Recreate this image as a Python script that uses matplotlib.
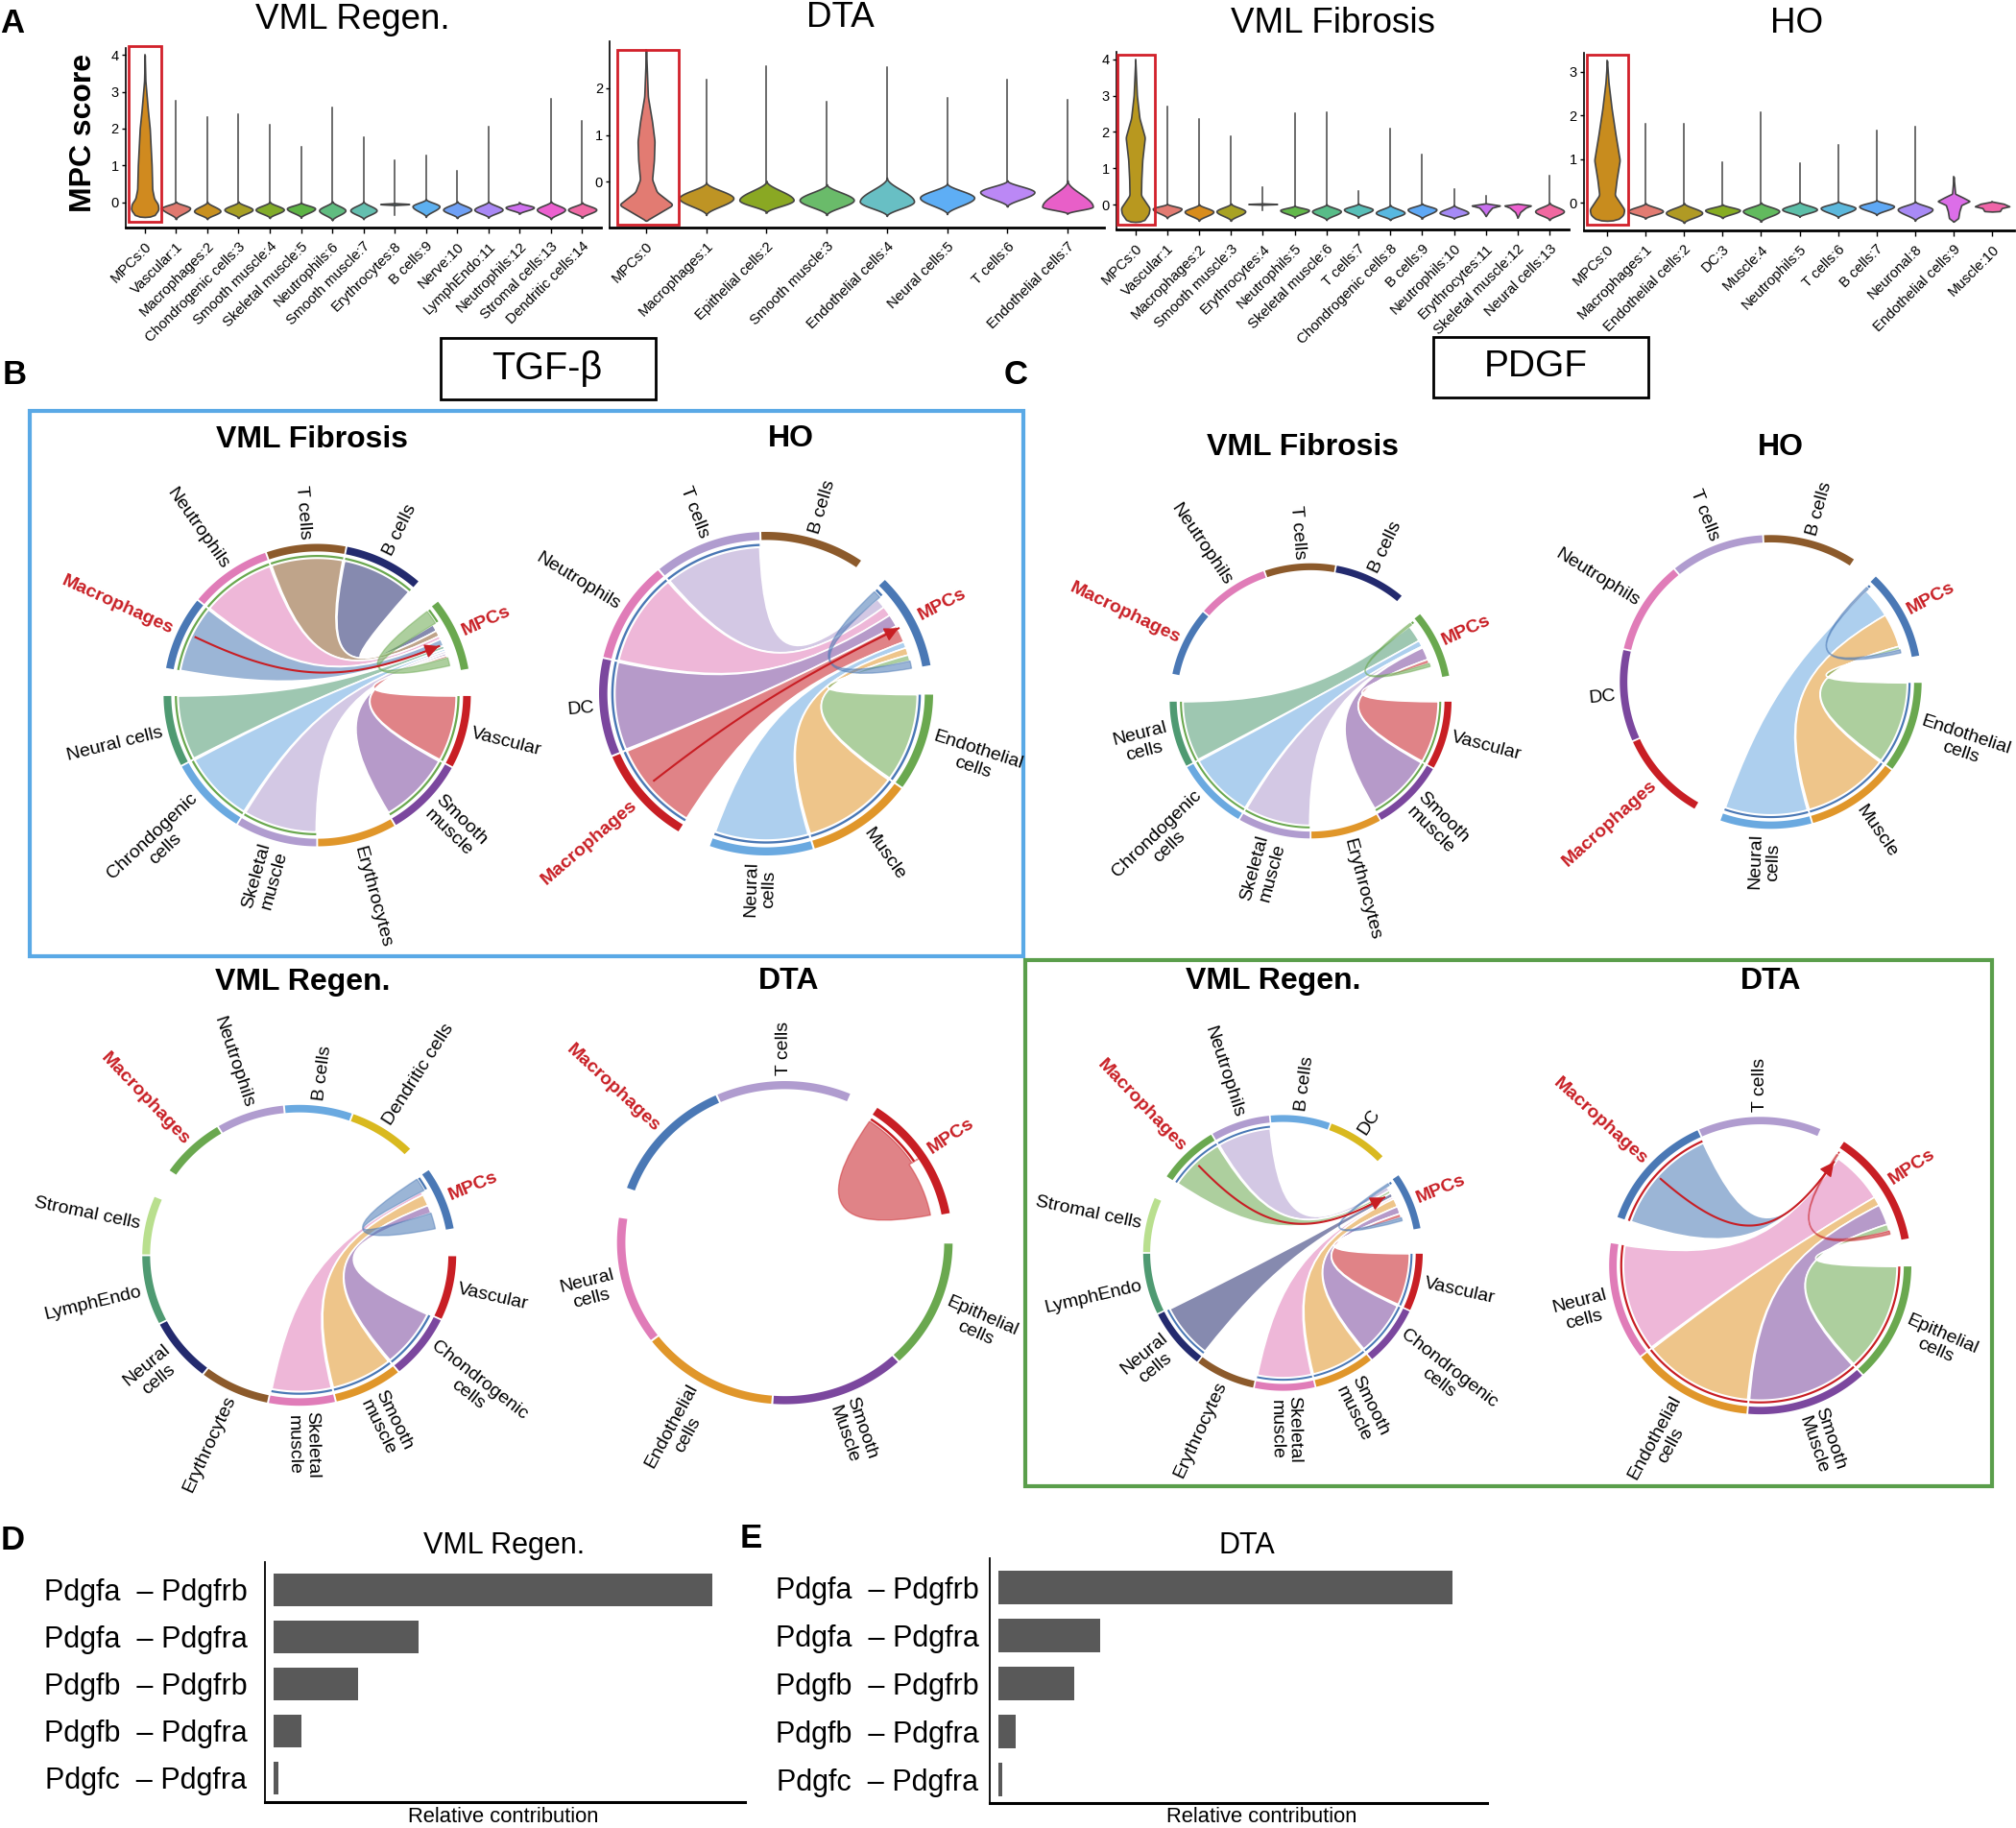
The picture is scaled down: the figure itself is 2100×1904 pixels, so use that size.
import matplotlib
matplotlib.use('Agg')
import matplotlib.pyplot as plt
from matplotlib.colors import to_rgba
from matplotlib.patches import PathPatch, Polygon, Rectangle
from matplotlib.path import Path
import numpy as np

plt.rcParams['font.family'] = ['Liberation Sans', 'DejaVu Sans']

W, H = 2100, 1904

# ---- panel A data
reg_names = ['MPCs:0', 'Vascular:1', 'Macrophages:2', 'Chondrogenic cells:3', 'Smooth muscle:4', 'Skeletal muscle:5',
             'Neutrophils:6', 'Smooth muscle:7', 'Erythrocytes:8', 'B cells:9', 'Nerve:10', 'LymphEndo:11',
             'Neutrophils:12', 'Stromal cells:13', 'Dendritic cells:14']
reg_colors = ['#D08A1F', '#E0796F', '#C8901F', '#A8A024', '#82AC2A', '#5DB445', '#60BC80', '#64BFAF', '#50B8C8',
              '#5DB0F0', '#6FA0F5', '#A988F5', '#D070F0', '#EC60D0', '#F06AA5']
reg_low = [-.40, -.46, -.46, -.43, -.43, -.42, -.49, -.46, -.08, -.40, -.43, -.42, -.31, -.46, -.42]
reg_mode = [0, -.16, -.24, -.20, -.20, -.17, -.22, -.22, -.05, -.11, -.20, -.20, -.14, -.20, -.20]
reg_high = [0, .02, .02, .02, .02, 0, .03, .03, -.02, .09, .03, .03, -.01, .03, 0]
reg_tip = [4.0, 2.76, 2.32, 2.38, 2.10, 1.50, 2.57, 1.76, 1.13, 1.26, .84, 2.06, -.01, 2.82, 2.20]
reg_w = [.45, .45, .42, .45, .45, .45, .42, .42, .46, .43, .45, .45, .45, .45, .45]
reg_tail = {8: -.35}
reg_prof = {0: ([-.40, -.39, -.2, -.05, .1, .35, 1, 2, 2.5, 3, 3.3, 4.0],
                [0, .28, .44, .42, .30, .24, .22, .16, .10, .05, .02, 0])}

dta_names = ['MPCs:0', 'Macrophages:1', 'Epithelial cells:2', 'Smooth muscle:3', 'Endothelial cells:4',
             'Neural cells:5', 'T cells:6', 'Endothelial cells:7']
dta_colors = ['#E27B72', '#BE9424', '#8AA823', '#6ABB6A', '#68BFC4', '#5EAEF5', '#BB88F5', '#E85FC8']
dta_low = [-.83, -.71, -.66, -.71, -.73, -.69, -.53, -.68]
dta_mode = [0, -.35, -.39, -.39, -.42, -.34, -.22, -.53]
dta_high = [0, -.01, .02, -.05, .09, -.03, .03, .03]
dta_tip = [2.81, 2.18, 2.47, 1.70, 2.45, 1.79, 2.18, 1.75]
dta_w = [.45] * 7 + [.42]
dta_prof = {0: ([-.83, -.49, -.22, .05, .46, .87, 1.28, 1.82, 2.81],
                [0, .45, .18, .10, .13, .14, .10, .03, 0])}

fib_names = ['MPCs:0', 'Vascular:1', 'Macrophages:2', 'Smooth muscle:3', 'Erythrocytes:4', 'Neutrophils:5',
             'Skeletal muscle:6', 'T cells:7', 'Chondrogenic cells:8', 'B cells:9', 'Neutrophils:10',
             'Erythrocytes:11', 'Skeletal muscle:12', 'Neural cells:13']
fib_colors = ['#B8981F', '#E27B72', '#D88C1C', '#A8A224', '#8AA824', '#62B84A', '#58BC88', '#58BFB8', '#58B8E0',
              '#5EA8F5', '#A58AF5', '#C870F0', '#EE60D0', '#F068A0']
fib_low = [-.47, -.37, -.44, -.44, 0, -.35, -.42, -.35, -.42, -.38, -.38, -.31, -.35, -.42]
fib_mode = [0, -.11, -.19, -.18, .02, -.15, -.18, -.13, -.22, -.13, -.22, -.02, -.03, -.18]
fib_high = [0, .03, .02, .04, .04, -.02, .02, .04, 0, .04, 0, .04, .02, .06]
fib_tip = [3.98, 2.71, 2.35, 1.89, .48, 2.51, 2.53, .37, 2.09, 1.38, .44, .25, .02, .79]
fib_w = [.45] * 14
fib_tail = {4: -.16}
fib_prof = {0: ([-.47, -.46, -.25, -.09, .26, .70, 1.23, 1.85, 2.38, 3.0, 3.98],
                [0, .25, .42, .45, .18, .19, .22, .30, .13, .05, 0]),
            11: ([-.31, -.2, -.08, -.02, .04], [0, .08, .2, .45, 0]),
            12: ([-.35, -.2, -.08, -.02, .03], [0, .08, .25, .42, 0])}

ho_names = ['MPCs:0', 'Macrophages:1', 'Endothelial cells:2', 'DC:3', 'Muscle:4', 'Neutrophils:5', 'T cells:6',
            'B cells:7', 'Neuronal:8', 'Endothelial cells:9', 'Muscle:10']
ho_colors = ['#C88C1E', '#E27B72', '#B09A24', '#86AC22', '#62BA5E', '#5CBFA8', '#5CB8DC', '#5EA8F5', '#A88AF5',
             '#DC6EE8', '#F065A8']
ho_low = [-.41, -.36, -.46, -.35, -.43, -.32, -.34, -.28, -.41, -.43, -.19]
ho_mode = [0, -.19, -.23, -.17, -.19, -.15, -.12, -.08, -.15, .04, -.08]
ho_high = [0, 0, 0, -.03, .01, .03, .04, .07, .04, .21, .03]
ho_tip = [3.26, 1.81, 1.81, .93, 2.07, .91, 1.33, 1.66, 1.74, .60, .03]
ho_w = [.45, .45, .47, .45, .47, .45, .45, .45, .45, .42, .45]
ho_prof = {0: ([-.41, -.40, -.28, -.15, .18, .54, .98, 1.57, 2.16, 2.75, 3.26],
               [0, .25, .42, .45, .20, .25, .33, .22, .12, .04, 0]),
           9: ([-.43, -.35, -.19, -.05, .04, .12, .21, .60], [0, .12, .15, .2, .42, .25, .04, 0]),
           10: ([-.2, -.19, -.12, -.08, -.02, .03], [0, .2, .25, .45, .3, 0])}

# ---- chord colours
RED = '#C81E24'
BLUE = '#4A78B5'
GREEN = '#6AA84F'
SEA = '#4F9A72'
LBLUE = '#6AA9E0'
LILAC = '#B09CCF'
ORANGE = '#E0962A'
PURPLE = '#7B479E'
PINK = '#E07CB8'
BROWN = '#8C5A2B'
NAVY = '#232A6E'
LGREEN = '#B9DF8E'
YELLOW = '#D9B91F'

# panel B, VML Fibrosis
b1_labels = ['Vascular', 'Smooth\nmuscle', 'Erythrocytes', 'Skeletal\nmuscle', 'Chrondogenic\ncells', 'Neural cells',
             'Macrophages', 'Neutrophils', 'T cells', 'B cells', 'MPCs']
b1_edges = [(360, 331.5), (331.5, 300.5), (300.5, 270), (270, 238.6), (238.6, 207.9), (207.9, 180), (170, 141),
            (141, 109.5), (109.5, 79), (79, 48.4), (38.5, 9.7)]
b1_colors = [RED, PURPLE, ORANGE, LILAC, LBLUE, SEA, BLUE, PINK, BROWN, NAVY, GREEN]
b1_tgt_idx = [10, 9, 8, 7, 6, 5, 4, 3, 1, 0, 10]
b1_tgt_deg = [6, 3, 2.5, 1.5, 3, 1.5, 1, 1, 1, 1, 3.5]
b1_arrow = (154.2, .88, 22.2, .857)

# panel B, HO
b2_labels = ['Endothelial\ncells', 'Muscle', 'Neural\ncells', 'Macrophages', 'DC', 'Neutrophils', 'T cells', 'B cells',
             'MPCs']
b2_edges = [(360, 324.4), (324.4, 286.6), (286.6, 250), (238.7, 202.7), (202.7, 167.2), (167.2, 130), (130, 92),
            (92, 55), (45, 9.8)]
b2_colors = [GREEN, ORANGE, LBLUE, RED, PURPLE, PINK, LILAC, BROWN, BLUE]
b2_tgt_idx = [8, 6, 5, 4, 3, 2, 1, 0, 8]
b2_tgt_deg = [3, 4, 4, 5, 7, 2.5, 3, 2.5, 3]
b2_arrow = (218.7, .86, 27, .89)

# panel B, VML Regen.
b3_labels = ['Vascular', 'Chondrogenic\ncells', 'Smooth\nmuscle', 'Skeletal\nmuscle', 'Erythrocytes', 'Neural\ncells',
             'LymphEndo', 'Stromal cells', 'Macrophages', 'Neutrophils', 'B cells', 'Dendritic cells', 'MPCs']
b3_edges = [(360, 334.7), (334.7, 309.3), (309.3, 283.5), (283.5, 258.5), (258.5, 232.2), (232.2, 207.1),
            (207.1, 180), (180, 156.8), (146, 121.2), (121.2, 95.6), (95.6, 70.1), (70.1, 44.7), (34.8, 10)]
b3_colors = [RED, PURPLE, ORANGE, PINK, BROWN, NAVY, SEA, LGREEN, GREEN, LILAC, LBLUE, YELLOW, BLUE]
b3_tgt_idx = [12, 3, 2, 1, 12]
b3_tgt_deg = [5.5, 1.5, 5, 3.5, 7]

# panel B, DTA
b4_labels = ['Epithelial\ncells', 'Smooth\nMuscle', 'Endothelial\ncells', 'Neural\ncells', 'Macrophages', 'T cells',
             'MPCs']
b4_edges = [(360, 312.7), (312.7, 265.7), (265.7, 217.4), (217.4, 170.8), (160.5, 114), (114, 66.7), (56.9, 10.2)]
b4_colors = [GREEN, PURPLE, ORANGE, PINK, BLUE, LILAC, RED]
b4_tgt_idx = [6, 6]
b4_tgt_deg = [23, 22]

# panel C, VML Fibrosis
c1_labels = ['Vascular', 'Smooth\nmuscle', 'Erythrocytes', 'Skeletal\nmuscle', 'Chrondogenic\ncells', 'Neural\ncells',
             'Macrophages', 'Neutrophils', 'T cells', 'B cells', 'MPCs']
c1_edges = [(360, 330.6), (330.6, 299.8), (299.8, 270), (270, 239.5), (239.5, 208.5), (208.5, 180), (169, 139.5),
            (139.5, 109.2), (109.2, 79.6), (79.6, 49.4), (39.4, 10.2)]
c1_colors = [RED, PURPLE, ORANGE, LILAC, LBLUE, SEA, BLUE, PINK, BROWN, NAVY, GREEN]
c1_tgt_idx = [10, 5, 4, 3, 1, 0, 10]
c1_tgt_deg = [1, 8, 3, .7, 6, 2, 1.5]

# panel C, HO
c2_labels = ['Endothelial\ncells', 'Muscle', 'Neural\ncells', 'Macrophages', 'DC', 'Neutrophils', 'T cells', 'B cells',
             'MPCs']
c2_edges = [(360, 323.4), (323.4, 286), (286, 250.2), (240, 203.8), (203.8, 167.1), (167.1, 129.7), (129.7, 92.9),
            (92.9, 56.2), (46.2, 10)]
c2_colors = [GREEN, ORANGE, LBLUE, RED, PURPLE, PINK, LILAC, BROWN, BLUE]
c2_tgt_idx = [8, 2, 1, 0, 8]
c2_tgt_deg = [1, 13.5, 15, 1.5, 1.5]

# panel C, VML Regen.
c3_labels = ['Vascular', 'Chondrogenic\ncells', 'Smooth\nmuscle', 'Skeletal\nmuscle', 'Erythrocytes', 'Neural\ncells',
             'LymphEndo', 'Stromal cells', 'Macrophages', 'Neutrophils', 'B cells', 'DC', 'MPCs']
c3_edges = [(360, 335.2), (335.2, 309.3), (309.3, 283.5), (283.5, 258), (258, 232.4), (232.4, 206.3), (206.3, 180),
            (180, 156.2), (146.6, 120.6), (120.6, 95.4), (95.4, 70), (70, 44.2), (34.6, 10)]
c3_colors = [RED, PURPLE, ORANGE, PINK, BROWN, NAVY, SEA, LGREEN, GREEN, LILAC, LBLUE, YELLOW, BLUE]
c3_tgt_idx = [12, 9, 8, 5, 3, 2, 1, 0, 12]
c3_tgt_deg = [1, 2, 1.5, 2, 1, 4, 3.5, 2, 1.5]
c3_arrow = (133.6, .87, 29, .83)

# panel C, DTA
c4_labels = ['Epithelial\ncells', 'Smooth\nMuscle', 'Endothelial\ncells', 'Neural\ncells', 'Macrophages', 'T cells',
             'MPCs']
c4_edges = [(360, 312.7), (312.7, 265.1), (265.1, 217.7), (217.7, 171), (161.3, 114.2), (114.2, 66.2), (56.7, 10.2)]
c4_colors = [GREEN, PURPLE, ORANGE, PINK, BLUE, LILAC, RED]
c4_tgt_idx = [6, 4, 3, 2, 1, 0, 6]
c4_tgt_deg = [.6, 1, 23, 4, 9, 3, 1.5]
c4_arrow = (138.5, .88, 55, .85)

# ---- bars
pairs = ['Pdgfa  – Pdgfrb', 'Pdgfa  – Pdgfra', 'Pdgfb  – Pdgfrb', 'Pdgfb  – Pdgfra', 'Pdgfc  – Pdgfra']
d_values = [1.0, .33, .194, .064, .012]
e_values = [1.0, .225, .166, .037, .009]


def px_axes(fig, left, top, right, bottom):
    return fig.add_axes([left / W, 1 - bottom / H, (right - left) / W, (bottom - top) / H])


fig = plt.figure(figsize=(21, 19.04), dpi=100)


def smooth_profile(ys, ws):
    yy = np.linspace(ys[0], ys[-1], 400)
    ww = np.interp(yy, ys, ws)
    ww = np.convolve(np.pad(ww, 4, mode='edge'), np.ones(9) / 9, mode='valid')
    ww[0] = ww[-1] = 0
    return yy, ww


def violin_panel(rect, xlim, ylim, yticks, names, colors, low, mode, high, tip, widths, prof, tail):
    ax = px_axes(fig, *rect)
    ax.patch.set_alpha(0)
    for i in range(len(names)):
        ax.plot([i, i], [tail.get(i, low[i]), tip[i]], color='#444444', lw=1.1, zorder=2)
        if i in prof:
            yy, ww = smooth_profile(*prof[i])
        else:
            ylo = np.linspace(low[i], mode[i], 50)
            t = (mode[i] - ylo) / (mode[i] - low[i])
            wlo = (1 - t) ** 2 * (1 + 2 * t)
            yhi = np.linspace(mode[i], high[i], 50)
            t = (yhi - mode[i]) / (high[i] - mode[i])
            whi = (1 - t) ** 2 * (1 + 2 * t)
            yy = np.r_[ylo, yhi]
            ww = np.r_[wlo, whi] * widths[i]
        ax.fill_betweenx(yy, i - ww, i + ww, facecolor=colors[i], edgecolor='#444444', linewidth=1.2, zorder=3)
    ax.set_xlim(*xlim)
    ax.set_ylim(*ylim)
    ax.set_yticks(yticks)
    ax.set_xticks(range(len(names)))
    ax.set_xticklabels(names, rotation=45, ha='right', rotation_mode='anchor', fontsize=10.8)
    ax.tick_params(axis='x', length=4, pad=5, width=1)
    ax.tick_params(axis='y', length=3, pad=2, labelsize=10.5, width=1)
    ax.spines['top'].set_visible(False)
    ax.spines['right'].set_visible(False)
    ax.spines['left'].set_linewidth(1.2)
    ax.spines['bottom'].set_linewidth(2)
    return ax


violin_panel((130.6, 50, 626, 237), (-.62, 14.6), (-.687, 4.19), [0, 1, 2, 3, 4], reg_names, reg_colors, reg_low,
             reg_mode, reg_high, reg_tip, reg_w, reg_prof, reg_tail)
violin_panel((635, 43, 1150, 237), (-.606, 7.606), (-.977, 3.0), [0, 1, 2], dta_names, dta_colors, dta_low, dta_mode,
             dta_high, dta_tip, dta_w, dta_prof, {})
violin_panel((1162.5, 54, 1634, 239.3), (-.605, 13.6), (-.686, 4.2), [0, 1, 2, 3, 4], fib_names, fib_colors, fib_low,
             fib_mode, fib_high, fib_tip, fib_w, fib_prof, fib_tail)
violin_panel((1649.5, 55, 2098, 240), (-.61, 10.57), (-.632, 3.44), [0, 1, 2, 3], ho_names, ho_colors, ho_low, ho_mode,
             ho_high, ho_tip, ho_w, ho_prof, {})

# overlay in pixel coordinates for the chord diagrams and all furniture
ov = fig.add_axes([0, 0, 1, 1])
ov.set_xlim(0, W)
ov.set_ylim(H, 0)
ov.axis('off')
ov.patch.set_alpha(0)


def pt(geo, ang, frac):
    cx, cy, rx, ry = geo
    a = np.deg2rad(ang)
    return cx + rx * frac * np.cos(a), cy - ry * frac * np.sin(a)


def arc(geo, a0, a1, frac, n=40):
    return [pt(geo, a, frac) for a in np.linspace(a0, a1, n)]


def link_path(geo, hi, lo, t_hi, t_lo, r_src=.905, r_tgt=.885, k=.2, k_inner=None):
    if k_inner is None:
        k_inner = k
    verts = arc(geo, hi, lo, r_src)
    codes = [Path.MOVETO] + [Path.LINETO] * (len(verts) - 1)
    verts += [pt(geo, lo, k_inner), pt(geo, t_hi, k_inner), pt(geo, t_hi, r_tgt)]
    codes += [Path.CURVE4] * 3
    tip = arc(geo, t_hi, t_lo, r_tgt, 10)[1:]
    verts += tip
    codes += [Path.LINETO] * len(tip)
    verts += [pt(geo, t_lo, k), pt(geo, hi, k), pt(geo, hi, r_src)]
    codes += [Path.CURVE4] * 3
    return Path(verts, codes)


def band(geo, a0, a1, f0, f1, color, zorder=4):
    poly = arc(geo, a0, a1, f1) + arc(geo, a1, a0, f0)
    ov.add_patch(Polygon(poly, closed=True, facecolor=color, edgecolor='none', zorder=zorder))


def chord(geo, labels, edges, colors, tgt_idx, tgt_deg, arrow=None):
    mpc = len(labels) - 1
    ring = colors[mpc]
    for lab, (hi, lo), col in zip(labels, edges, colors):
        band(geo, hi - .35, lo + .35, .95, 1.0, col)
        mid = (hi + lo) / 2
        x, y = pt(geo, mid, 1.035)
        right = np.cos(np.deg2rad(mid)) > -.02
        rot = mid if right else mid - 180
        if rot > 180:
            rot -= 360
        hot = lab in ('Macrophages', 'MPCs')
        ov.text(x, y, lab, rotation=rot, rotation_mode='anchor', ha='left' if right else 'right', va='center',
                ma='center', fontsize=14, color=RED if hot else 'black', fontweight='bold' if hot else 'normal',
                linespacing=1.15)
    # links are stacked on the MPC sector from its top end downwards
    pos = edges[mpc][0] - .8
    self_src = None
    for idx, deg in zip(tgt_idx, tgt_deg):
        t_hi, t_lo = pos, pos - deg
        pos = t_lo
        col = colors[idx]
        if idx == mpc:
            if self_src is None:
                self_src = (t_hi, t_lo)
                band(geo, t_hi, t_lo, .913, .927, ring)
                continue
            # both edges of a self link meet at the far end, unless its two ends touch
            near = self_src[1] - t_hi < 2
            p = link_path(geo, self_src[0], self_src[1], t_hi, t_lo, k=.3, k_inner=.95 if near else .3)
            ov.add_patch(PathPatch(p, facecolor=to_rgba(col, .55), edgecolor=to_rgba(col, .45), lw=1, zorder=3))
            continue
        hi, lo = edges[idx]
        band(geo, hi - .4, lo + .4, .913, .927, ring)
        p = link_path(geo, hi - .4, lo + .4, t_hi, t_lo)
        ov.add_patch(PathPatch(p, facecolor=to_rgba(col, .55), edgecolor='white', lw=1.2, zorder=3))
    if arrow:
        a0, r0, a1, r1 = arrow
        p0, c0, c1, p1 = [np.array(q) for q in (pt(geo, a0, r0), pt(geo, a0, .2), pt(geo, a1, .2), pt(geo, a1, r1))]
        t = np.linspace(0, 1, 80)[:, None]
        curve = (1 - t) ** 3 * p0 + 3 * (1 - t) ** 2 * t * c0 + 3 * (1 - t) * t ** 2 * c1 + t ** 3 * p1
        ov.plot(curve[:, 0], curve[:, 1], color=RED, lw=1.5, zorder=5)
        ov.annotate('', xy=curve[-1], xytext=curve[-8], zorder=6,
                    arrowprops=dict(arrowstyle='-|>,head_length=.9,head_width=.45', color=RED, lw=1, shrinkA=0, shrinkB=0))


chord((330.4, 724, 160, 157.5), b1_labels, b1_edges, b1_colors, b1_tgt_idx, b1_tgt_deg, b1_arrow)
chord((798, 722.5, 174, 168.5), b2_labels, b2_edges, b2_colors, b2_tgt_idx, b2_tgt_deg, b2_arrow)
chord((311.7, 1307.5, 163.5, 156.7), b3_labels, b3_edges, b3_colors, b3_tgt_idx, b3_tgt_deg)
chord((817.5, 1294.3, 174.8, 168.3), b4_labels, b4_edges, b4_colors, b4_tgt_idx, b4_tgt_deg)
chord((1365.2, 730, 146.8, 143.3), c1_labels, c1_edges, c1_colors, c1_tgt_idx, c1_tgt_deg)
chord((1844.5, 710.3, 157.2, 153), c2_labels, c2_edges, c2_colors, c2_tgt_idx, c2_tgt_deg)
chord((1336.4, 1305, 145.6, 143.6), c3_labels, c3_edges, c3_colors, c3_tgt_idx, c3_tgt_deg, c3_arrow)
chord((1833.6, 1318.2, 157.4, 154.9), c4_labels, c4_edges, c4_colors, c4_tgt_idx, c4_tgt_deg, c4_arrow)

# red boxes on the MPC violins
for x0, y0, x1, y1 in [(134, 48, 167.5, 230.7), (643, 52, 707, 234), (1164, 57, 1203, 234), (1653, 57, 1696, 234)]:
    ov.add_patch(Rectangle((x0, y0), x1 - x0, y1 - y0, fill=False, edgecolor='#D2202A', lw=2, zorder=8))

# framing boxes
ov.add_patch(Rectangle((31, 428), 1035, 568, fill=False, edgecolor='#5AA9E6', lw=3))
ov.add_patch(Rectangle((1068, 1000), 1007, 548, fill=False, edgecolor='#5A9E4B', lw=3))
ov.add_patch(Rectangle((459, 352), 224, 64, fill=False, edgecolor='black', lw=2))
ov.add_patch(Rectangle((1493, 351), 224, 63, fill=False, edgecolor='black', lw=2))
ov.text(570, 384, 'TGF-β', fontsize=28.5, ha='center', va='center')
ov.text(1600, 382, 'PDGF', fontsize=28, ha='center', va='center')

for s, x, y in [('A', 13, 25), ('B', 15, 390), ('C', 1058, 390), ('D', 13, 1604), ('E', 782, 1603)]:
    ov.text(x, y, s, fontsize=25, fontweight='bold', ha='center', va='center')

ov.text(87, 138, 'MPC score', fontsize=23, fontweight='bold', rotation=90, ha='center', va='center')

for s, x, y in [('VML Regen.', 367, 20), ('DTA', 875, 19), ('VML Fibrosis', 1388, 25), ('HO', 1872, 25)]:
    ov.text(x, y, s, fontsize=26.5, ha='center', va='center')

for s, x, y in [('VML Fibrosis', 325, 458), ('HO', 824, 457), ('VML Regen.', 315, 1023), ('DTA', 822, 1022),
                ('VML Fibrosis', 1357, 466), ('HO', 1855, 466), ('VML Regen.', 1326, 1022), ('DTA', 1845, 1022)]:
    ov.text(x, y, s, fontsize=23, fontweight='bold', ha='center', va='center')


def bar_panel(rect, xlim, ylim, values, pad):
    ax = px_axes(fig, *rect)
    ax.patch.set_alpha(0)
    ax.barh(range(len(pairs)), values, height=.7, color='#595959')
    ax.set_xlim(*xlim)
    ax.set_ylim(*ylim)
    ax.set_xticks([])
    ax.set_yticks(range(len(pairs)))
    ax.set_yticklabels(pairs, fontsize=22)
    ax.tick_params(axis='y', length=0, pad=pad)
    ax.spines['top'].set_visible(False)
    ax.spines['right'].set_visible(False)
    ax.spines['left'].set_linewidth(1.3)
    ax.spines['bottom'].set_linewidth(2.2)


bar_panel((275.5, 1627, 775.5, 1877), (-.02, 1.073), (4.51, -.59), d_values, 13)
bar_panel((1030.6, 1623, 1549, 1878), (-.02, 1.076), (4.5, -.6), e_values, 8)

ov.text(525, 1610, 'VML Regen.', fontsize=22, ha='center', va='center')
ov.text(1299, 1610, 'DTA', fontsize=22, ha='center', va='center')
ov.text(524, 1892, 'Relative contribution', fontsize=15.8, ha='center', va='center')
ov.text(1314, 1892, 'Relative contribution', fontsize=15.8, ha='center', va='center')

plt.savefig('out.png', dpi=100)
